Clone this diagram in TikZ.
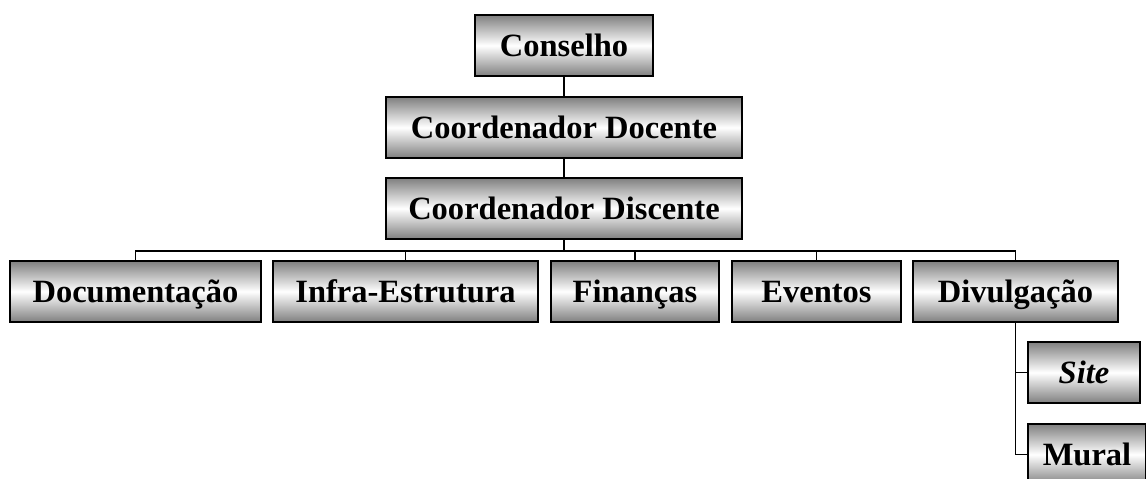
\documentclass[tikz,border=0pt]{standalone}
\usepackage{fontspec}
\setmainfont{Liberation Serif}[BoldFont={Liberation Serif Bold},
  BoldItalicFont={Liberation Serif Bold Italic}]
\tikzset{
  orgbox/.style = {draw=black, line width=1.1pt, top color=black!50, bottom color=black!50,
    middle color=white, minimum height=61*0.02cm, inner sep=0pt,
    text height=0.46cm, text depth=0.0cm,
    font=\fontsize{18.5}{22}\selectfont\bfseries},
  link/.style = {draw=black, line width=0.8pt}
}

\begin{document}
\begin{tikzpicture}[x=0.02cm,y=-0.02cm]
  \clip (0,0) rectangle (1146,479);
  % top of the chart
  \node (con) at (564,45.5) [orgbox, minimum width=178*0.02cm] {Conselho};
  \node (doc) at (564,127.5) [orgbox, minimum width=356*0.02cm] {Coordenador Docente};
  \node (dis) at (564,208.5) [orgbox, minimum width=356*0.02cm] {Coordenador Discente};
  % commissions
  \node (dcm) at (135.5,291.5) [orgbox, minimum width=251*0.02cm] {Documentação};
  \node (inf) at (405.5,291.5) [orgbox, minimum width=265*0.02cm] {Infra-Estrutura};
  \node (fin) at (635,291.5) [orgbox, minimum width=168*0.02cm] {Finanças};
  \node (eve) at (816.5,291.5) [orgbox, minimum width=169*0.02cm] {Eventos};
  \node (div) at (1015.5,291.5) [orgbox, minimum width=205*0.02cm] {Divulgação};
  % under Divulgação
  \node (sit) at (1084,372.5) [orgbox, minimum width=112*0.02cm] {\itshape Site};
  \node (mur) at (1087,454.5) [orgbox, minimum width=118*0.02cm] {Mural};
  % connectors
  \coordinate (bus) at (564,251);
  \draw[link] (con) -- (doc);
  \draw[link] (doc) -- (dis);
  \draw[link] (dis) -- (bus);
  \foreach \n in {dcm,inf,fin,eve,div}
    \draw[link] (\n.north) |- (bus);
  \draw[link] (div.south) |- (sit.west);
  \draw[link] (div.south) |- (mur.west);
\end{tikzpicture}
\end{document}
